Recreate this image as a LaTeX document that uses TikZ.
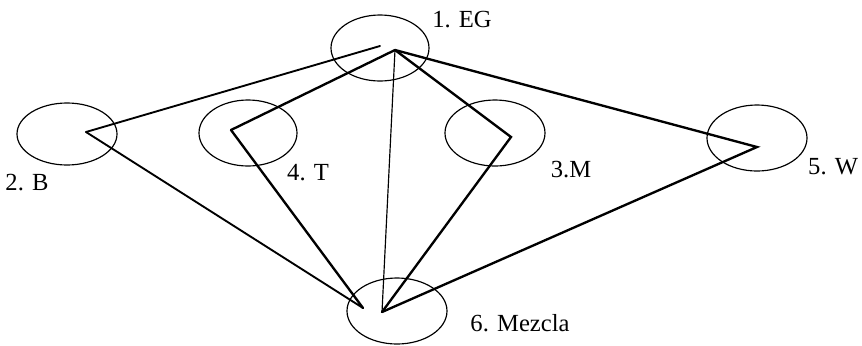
\documentclass[tikz,border=0pt]{standalone}
\usepackage{fontspec}
\setmainfont{Liberation Serif}
\usetikzlibrary{shapes.geometric}

\begin{document}
\begin{tikzpicture}[
    font=\fontsize{21}{25}\selectfont,
    blob/.style={ellipse, draw=black, line width=1pt, minimum width=3cm, minimum height=1.98cm, inner sep=0pt},
    link/.style={draw=black, line width=2pt, line cap=round},
    thinlink/.style={draw=black, line width=1pt, line cap=round},
    lbl/.style={inner sep=0pt}
]
\useasboundingbox (0,0) rectangle (25.86,-10.35);

% Ellipses
\node[blob, minimum width=2.94cm] (eg) at (11.40,-1.44) {};
\node[blob, minimum height=1.86cm] (b) at (2.01,-4.02) {};
\node[blob, minimum width=2.94cm] (t) at (7.44,-3.99) {};
\node[blob] (m) at (14.85,-3.99) {};
\node[blob] (w) at (22.71,-4.14) {};
\node[blob] (mez) at (11.91,-9.33) {};

% Labels
\node[lbl] (eg_lbl) at (13.86,-0.60) {1. EG};
\node[lbl] (b_lbl) at (0.81,-5.49) {2. B};
\node[lbl, anchor=west] (t_lbl) at (8.61,-5.19) {4. T};
\node[lbl] (m_lbl) at (17.13,-5.10) {3.M};
\node[lbl, anchor=west] (w_lbl) at (24.24,-5.01) {5. W};
\node[lbl] (mez_lbl) at (15.60,-9.69) {6. Mezcla};

% Points inside the ellipses
\coordinate (eg_top) at (11.85,-1.50);
\coordinate (eg_end) at (11.40,-1.38);
\coordinate (b_pt) at (2.58,-3.96);
\coordinate (t_pt) at (6.93,-3.90);
\coordinate (m_pt) at (15.33,-4.11);
\coordinate (w_pt) at (22.71,-4.41);
\coordinate (mez_pt) at (11.46,-9.36);
\coordinate (mez_end) at (10.89,-9.24);

% Links
\draw[link, line width=1.6pt] (b_pt) -- (eg_end);
\draw[link, line width=1.6pt] (b_pt) -- (mez_end);
\draw[link] (t_pt) -- (eg_top);
\draw[link] (t_pt) -- (mez_end);
\draw[link] (eg_top) -- (m_pt) -- (mez_pt);
\draw[link] (eg_top) -- (w_pt) -- (mez_pt);
\draw[thinlink] (eg_top) -- (mez_pt);

\end{tikzpicture}
\end{document}
